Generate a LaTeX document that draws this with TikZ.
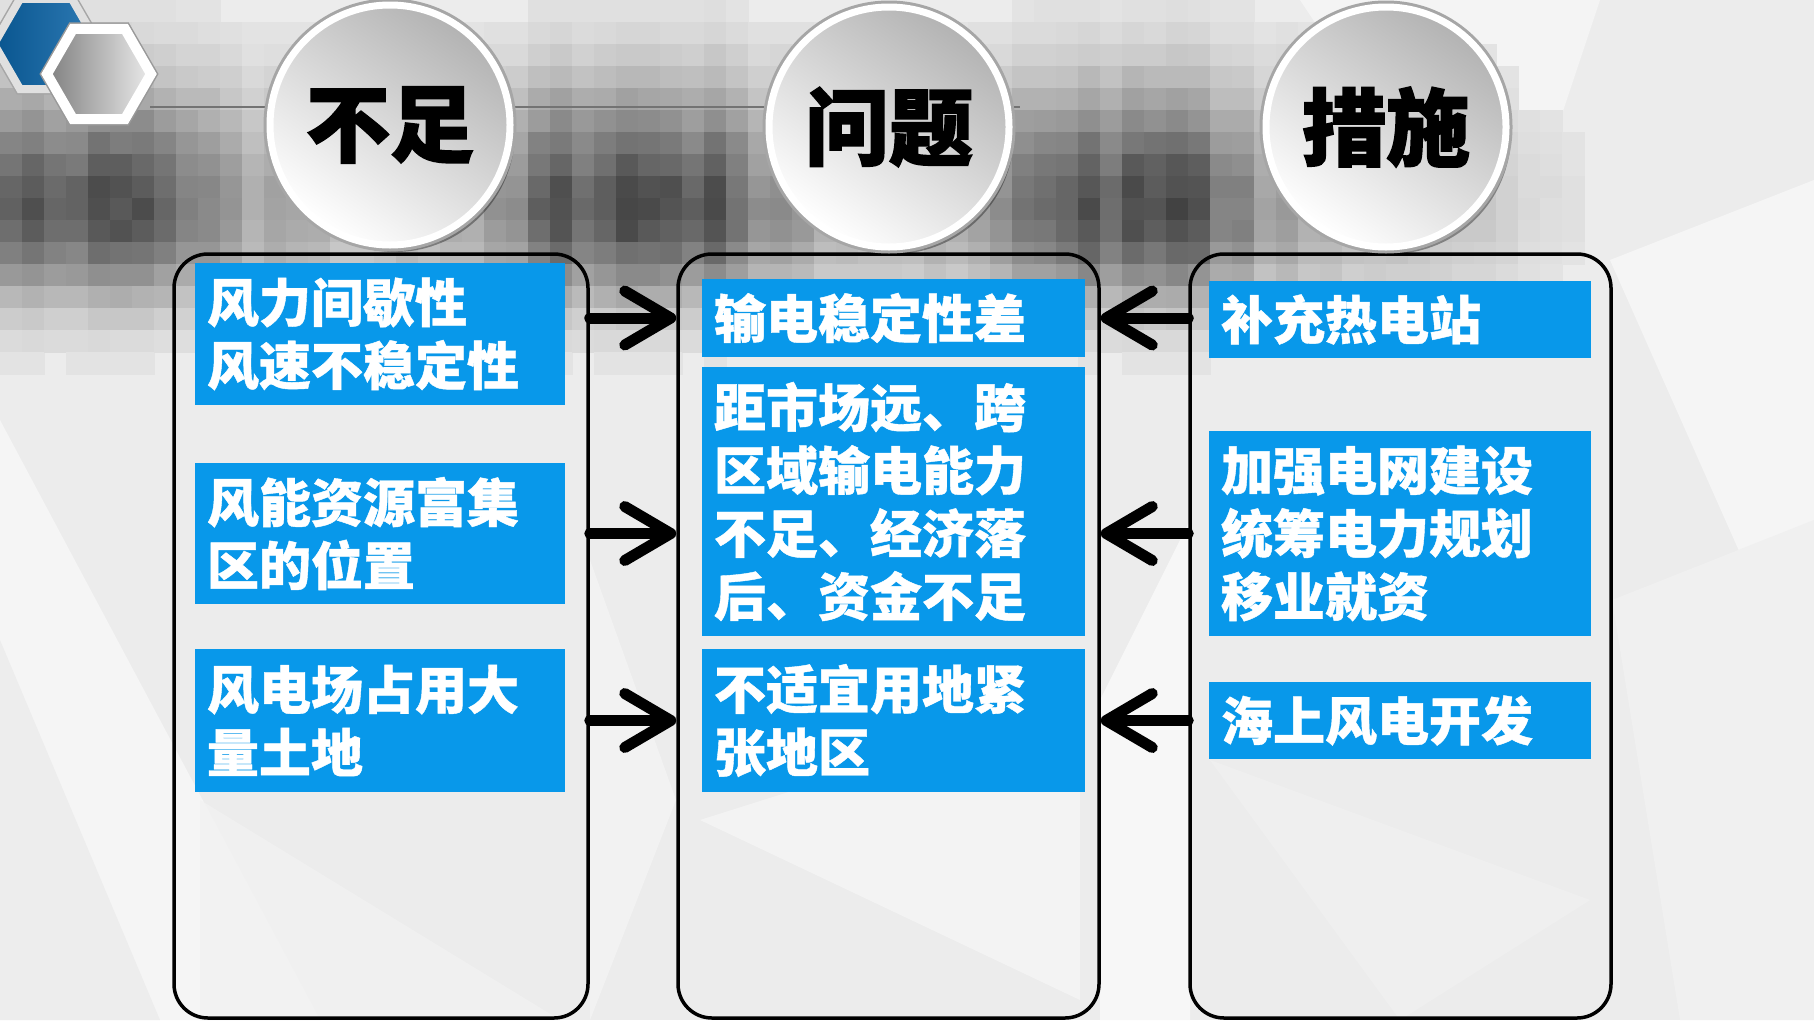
\documentclass[tikz,border=0pt]{standalone}
\usepackage{fontspec}
\newfontfamily\cjk{Noto Sans CJK SC}[BoldFeatures={FakeBold=0.8}]
\newfontfamily\cjkheavy{Noto Sans CJK SC}[BoldFeatures={FakeBold=2}]
\usetikzlibrary{arrows.meta,shapes.geometric,calc}
\definecolor{boxblue}{HTML}{0898EA}
\definecolor{bgc}{HTML}{ECECEC}
\definecolor{hexblue}{HTML}{0A64A8}
\begin{document}
\begin{tikzpicture}[x=1pt,y=-1pt,
  declare function={gs(\p,\c,\s)=exp(-((\p-\c)/\s)*((\p-\c)/\s));},
  colbox/.style={draw=black, line width=3.5pt, rounded corners=34pt, rectangle, minimum height=764pt, inner sep=0pt},
  bluebox/.style={fill=boxblue, rectangle, inner xsep=12pt, inner ysep=0pt, align=left, text=white,
     font=\cjk\bfseries\fontsize{52}{63}\selectfont},
  titlecirc/.style={circle, minimum size=240pt, inner sep=0pt, top color=black!30, bottom color=white,
     shading angle=-35, draw=white, line width=7pt,
     font=\cjkheavy\bfseries\fontsize{84}{90}\selectfont,
     preaction={fill=black, opacity=0.35, transform canvas={xshift=5pt,yshift=-7pt}},
     preaction={draw=black!35, line width=13pt}},
  flow/.style={line width=11pt, line cap=round, -{Straight Barb[length=46pt,width=54pt,line width=11pt,round]}}
]
\useasboundingbox (0,0) rectangle (1814,1020);
% background
\fill[bgc] (0,0) rectangle (1814,1020);
\fill[black!4] (0,420) -- (320,1020) -- (0,1020) -- cycle;
\fill[black!9,opacity=.6] (0,640) -- (160,1020) -- (0,1020) -- cycle;
\fill[white,opacity=.5] (1610,260) -- (1814,180) -- (1814,720) -- cycle;
\fill[black!6] (1612,600) -- (1814,520) -- (1814,1020) -- (1680,1020) -- cycle;
\fill[white,opacity=.45] (1300,0) -- (1600,0) -- (1500,300) -- cycle;
\fill[black!3] (1100,700) -- (1190,520) -- (1190,1020) -- (1100,1020) -- cycle;
\fill[white,opacity=.35] (590,560) -- (676,800) -- (590,1020) -- cycle;
\fill[black!5,opacity=.8] (200,800) -- (560,1020) -- (200,1020) -- cycle;
\fill[white,opacity=.4] (700,820) -- (1080,700) -- (1080,1000) -- cycle;
\fill[black!5,opacity=.6] (1210,760) -- (1590,900) -- (1400,1020) -- cycle;
% mosaic
\pgfmathsetseed{11}
\foreach \i in {0,...,82}{
  \pgfmathsetmacro{\cx}{\i*22+11}
  \pgfmathsetmacro{\hx}{min(62, 62*gs(\cx,70,150)+60*gs(\cx,640,130)+62*gs(\cx,1135,130)+22*gs(\cx,390,250)+22*gs(\cx,889,250)+20*gs(\cx,1386,150))}
  \pgfmathsetmacro{\cn}{0.8+0.3*rnd}
  \foreach \j in {0,...,20}{
    \pgfmathsetmacro{\cy}{\j*22+11}
    \pgfmathsetmacro{\ty}{(\cy-210)/((\cy<210)?125:90)}
    \pgfmathtruncatemacro{\d}{8+\hx*exp(-\ty*\ty)*\cn*(0.93+0.1*rnd)}
    \ifnum\d>10
      \fill[black!\d] (\i*22,\j*22) rectangle (\i*22+22.5,\j*22+22.5);
    \fi
  }
}
% hexagons
\node[regular polygon, regular polygon sides=6, minimum size=104pt, inner sep=0pt,
      left color=hexblue!85!black, right color=hexblue!85!white, draw=black!12, line width=8pt,
      preaction={draw=black!35, line width=11pt}] (hexa) at (46,44) {};
\node[regular polygon, regular polygon sides=6, minimum size=104pt, inner sep=0pt,
      left color=black!50, right color=black!8, draw=white, line width=10pt,
      preaction={draw=black!40, line width=13pt}] (hexb) at (99,74) {};
% horizontal rule
\coordinate (rl) at (150,107);
\coordinate (rr) at (1020,107);
\draw[black!55, line width=2.5pt] (rl) -- (rr);
% columns
\node[colbox, minimum width=414pt] (colL) at (381,636) {};
\node[colbox, minimum width=421pt] (colM) at (888.5,636) {};
\node[colbox, minimum width=421pt] (colR) at (1400.5,636) {};
% blue boxes
\node[bluebox, text width=346pt, minimum height=142pt] (lb1) at (380,334) {风力间歇性\\风速不稳定性};
\node[bluebox, text width=346pt, minimum height=141pt] (lb2) at (380,533.5) {风能资源富集\\区的位置};
\node[bluebox, text width=346pt, minimum height=143pt] (lb3) at (380,720.5) {风电场占用大\\量土地};
\node[bluebox, text width=359pt, minimum height=78pt] (mb1) at (893.5,318) {输电稳定性差};
\node[bluebox, text width=359pt, minimum height=269pt] (mb2) at (893.5,501.5) {距市场远、跨\\区域输电能力\\不足、经济落\\后、资金不足};
\node[bluebox, text width=359pt, minimum height=143pt] (mb3) at (893.5,720.5) {不适宜用地紧\\张地区};
\node[bluebox, text width=358pt, minimum height=77pt] (rb1) at (1400,319.5) {补充热电站};
\node[bluebox, text width=358pt, minimum height=205pt] (rb2) at (1400,533.5) {加强电网建设\\统筹电力规划\\移业就资};
\node[bluebox, text width=358pt, minimum height=77pt] (rb3) at (1400,720.5) {海上风电开发};
% arrows
\draw[flow] (colL.east |- mb1) -- (colM.west |- mb1);
\draw[flow] (colL.east |- lb2) -- (colM.west |- lb2);
\draw[flow] (colL.east |- lb3) -- (colM.west |- lb3);
\draw[flow] (colR.west |- mb1) -- (colM.east |- mb1);
\draw[flow] (colR.west |- lb2) -- (colM.east |- lb2);
\draw[flow] (colR.west |- lb3) -- (colM.east |- lb3);
% title circles
\node[titlecirc] (t1) at (390,125) {不足};
\node[titlecirc] (t2) at (889,127) {问题};
\node[titlecirc] (t3) at (1386,127) {措施};
\end{tikzpicture}
\end{document}
